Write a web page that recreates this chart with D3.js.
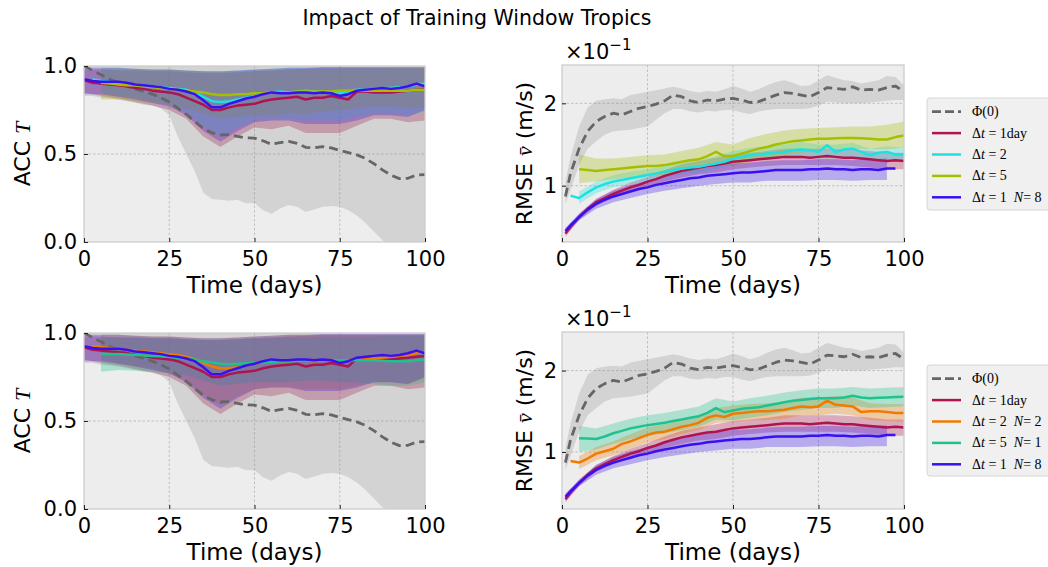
<!DOCTYPE html>
<html><head><meta charset="utf-8">
<script src="https://cdn.jsdelivr.net/npm/d3@7"></script>
<style>body{margin:0;background:#fff}svg{display:block}</style>
</head><body><script>
// ---------- DATA ----------
const accDays = [0,2.5,5,7.5,10,12.5,15,17.5,20,22.5,25,27.5,30,32.5,35,37.5,40,42.5,45,47.5,50,52.5,55,57.5,60,62.5,65,67.5,70,72.5,75,77.5,80,82.5,85,87.5,90,92.5,95,97.5,100];
const accBandDays = [0,5,10,15,20,25,30,35,40,45,50,55,60,65,70,75,80,85,90,95,100];
const rmseDays = [1,2.5,5,7.5,10,12.5,15,17.5,20,22.5,25,27.5,30,32.5,35,37.5,40,42.5,45,47.5,50,52.5,55,57.5,60,62.5,65,67.5,70,72.5,75,77.5,80,82.5,85,87.5,90,92.5,95,97.5,100];
const rmseBandDays = [1,5,10,15,20,25,30,35,40,45,50,55,60,65,70,75,80,85,90,95,100];

const xTicks = [0,25,50,75,100];
const accTicks = [0,0.5,1];
const rmseTicks = [1,2];

// ACC means
const accPhi = [1.00,0.975,0.95,0.925,0.905,0.885,0.87,0.855,0.84,0.82,0.795,0.76,0.725,0.685,0.645,0.62,0.608,0.61,0.60,0.592,0.59,0.575,0.555,0.565,0.572,0.56,0.538,0.535,0.542,0.535,0.52,0.508,0.495,0.475,0.445,0.41,0.38,0.36,0.362,0.38,0.383];
const accPhiLo = [0.83,0.83,0.82,0.815,0.81,0.80,0.79,0.78,0.775,0.76,0.72,0.60,0.50,0.40,0.28,0.245,0.24,0.235,0.24,0.22,0.22,0.18,0.16,0.19,0.21,0.20,0.17,0.185,0.20,0.205,0.20,0.18,0.15,0.11,0.06,0.01,-0.03,-0.06,-0.08,-0.10,-0.10];
const accPhiHi = [1.0,1.0,1.0,1.0,1.0,1.0,1.0,1.0,1.0,1.0,1.0,1.0,1.0,1.0,1.0,1.0,1.0,1.0,1.0,1.0,1.0,1.0,1.0,1.0,1.0,1.0,1.0,1.0,1.0,1.0,1.0,1.0,1.0,1.0,1.0,1.0,1.0,1.0,1.0,1.0,1.0];
const accRed = [0.92,0.905,0.90,0.895,0.89,0.885,0.875,0.87,0.86,0.855,0.85,0.84,0.82,0.80,0.78,0.75,0.75,0.765,0.775,0.78,0.785,0.80,0.81,0.815,0.82,0.825,0.81,0.82,0.82,0.83,0.82,0.81,0.855,0.855,0.85,0.85,0.85,0.855,0.86,0.865,0.87];
const accBlue = [0.925,0.915,0.91,0.91,0.91,0.905,0.895,0.89,0.885,0.88,0.87,0.865,0.855,0.84,0.805,0.765,0.765,0.785,0.80,0.815,0.825,0.84,0.85,0.845,0.845,0.85,0.85,0.845,0.85,0.845,0.83,0.84,0.86,0.865,0.87,0.875,0.87,0.875,0.885,0.90,0.885];
const accCyan = [null,0.925,0.915,0.91,0.905,0.90,0.895,0.89,0.885,0.88,0.875,0.87,0.865,0.85,0.825,0.80,0.795,0.80,0.81,0.82,0.83,0.845,0.85,0.855,0.85,0.855,0.86,0.855,0.855,0.85,0.845,0.855,0.865,0.865,0.87,0.875,0.875,0.88,0.885,0.895,0.90];
const accYellow = [null,null,0.905,0.90,0.895,0.89,0.89,0.885,0.88,0.875,0.87,0.865,0.86,0.855,0.85,0.84,0.835,0.835,0.84,0.84,0.845,0.845,0.85,0.85,0.85,0.855,0.855,0.855,0.855,0.855,0.86,0.86,0.86,0.86,0.86,0.86,0.86,0.86,0.86,0.865,0.865];
const accOrange = [null,0.925,0.92,0.915,0.91,0.905,0.90,0.895,0.89,0.885,0.88,0.875,0.865,0.85,0.83,0.81,0.80,0.80,0.805,0.815,0.825,0.835,0.84,0.84,0.84,0.845,0.845,0.84,0.845,0.845,0.84,0.845,0.85,0.85,0.855,0.86,0.865,0.87,0.875,0.885,0.89];
const accGreen = [null,null,0.88,0.88,0.88,0.878,0.875,0.872,0.87,0.868,0.865,0.86,0.855,0.848,0.84,0.832,0.825,0.823,0.825,0.828,0.83,0.832,0.835,0.838,0.84,0.842,0.845,0.845,0.845,0.845,0.845,0.845,0.845,0.845,0.845,0.843,0.84,0.84,0.84,0.845,0.85];
// ACC bands (on accBandDays)
const accRedLo = [0.85,0.83,0.815,0.795,0.775,0.75,0.70,0.60,0.54,0.60,0.65,0.64,0.66,0.62,0.62,0.62,0.66,0.70,0.70,0.68,0.69];
const accRedHi = [0.98,0.98,0.975,0.975,0.97,0.97,0.965,0.96,0.96,0.965,0.97,0.975,0.98,0.985,0.99,0.99,0.99,0.99,0.99,0.99,0.99];
const accBlueLo = [0.84,0.84,0.825,0.81,0.79,0.77,0.72,0.63,0.57,0.63,0.68,0.69,0.69,0.67,0.67,0.67,0.69,0.72,0.72,0.71,0.75];
const accBlueHi = [0.99,0.99,0.99,0.985,0.98,0.98,0.975,0.97,0.97,0.975,0.98,0.985,0.99,0.99,0.995,0.995,0.995,0.995,0.995,0.995,0.995];
const accCyanLo = [null,0.85,0.835,0.82,0.80,0.78,0.74,0.66,0.60,0.65,0.69,0.70,0.70,0.69,0.69,0.69,0.71,0.73,0.73,0.72,0.74];
const accCyanHi = [null,0.99,0.99,0.985,0.98,0.98,0.975,0.97,0.97,0.975,0.98,0.985,0.99,0.99,0.99,0.99,0.99,0.99,0.99,0.99,0.99];
const accYellowLo = [null,0.81,0.81,0.80,0.79,0.78,0.76,0.73,0.70,0.71,0.72,0.72,0.73,0.73,0.74,0.75,0.76,0.77,0.77,0.76,0.76];
const accYellowHi = [null,0.985,0.985,0.98,0.98,0.98,0.975,0.97,0.965,0.97,0.975,0.975,0.98,0.98,0.98,0.985,0.985,0.985,0.99,0.99,0.99];
const accOrangeLo = [null,0.85,0.83,0.81,0.80,0.77,0.73,0.65,0.59,0.64,0.68,0.69,0.69,0.68,0.68,0.68,0.70,0.72,0.72,0.71,0.74];
const accOrangeHi = [null,0.99,0.99,0.985,0.98,0.98,0.975,0.97,0.97,0.975,0.98,0.985,0.99,0.99,0.99,0.99,0.99,0.99,0.99,0.99,0.99];
const accGreenLo = [null,0.78,0.79,0.785,0.78,0.77,0.76,0.73,0.70,0.71,0.72,0.72,0.72,0.73,0.73,0.72,0.72,0.71,0.70,0.70,0.72];
const accGreenHi = [null,0.975,0.975,0.975,0.97,0.97,0.965,0.96,0.96,0.965,0.97,0.97,0.975,0.975,0.98,0.98,0.98,0.98,0.985,0.985,0.985];

// RMSE means (x 10^-1)
const rmsePhi = [0.87,1.15,1.45,1.66,1.78,1.84,1.88,1.86,1.90,1.94,1.96,1.99,2.03,2.10,2.08,2.03,2.01,2.04,2.03,2.05,2.06,2.04,2.01,2.02,2.06,2.10,2.13,2.12,2.10,2.08,2.13,2.19,2.18,2.17,2.20,2.16,2.17,2.16,2.19,2.21,2.14];
const rmsePhiLo = [0.78,0.95,1.25,1.45,1.54,1.62,1.66,1.67,1.68,1.70,1.72,1.80,1.88,1.93,1.93,1.90,1.89,1.91,1.90,1.92,1.92,1.89,1.87,1.90,1.92,1.93,1.93,1.93,1.93,1.94,1.97,2.02,2.01,2.00,2.00,2.00,2.01,2.02,2.03,2.04,2.04];
const rmsePhiHi = [1.05,1.35,1.72,1.95,2.03,2.05,2.06,2.05,2.10,2.12,2.14,2.16,2.18,2.20,2.18,2.15,2.13,2.15,2.14,2.17,2.21,2.18,2.14,2.17,2.22,2.26,2.28,2.25,2.21,2.22,2.28,2.34,2.31,2.28,2.27,2.24,2.26,2.28,2.33,2.32,2.22];
const rmseRed = [0.42,0.50,0.62,0.72,0.80,0.85,0.90,0.94,0.98,1.01,1.05,1.08,1.12,1.15,1.18,1.20,1.22,1.24,1.25,1.27,1.29,1.30,1.31,1.32,1.33,1.34,1.35,1.35,1.35,1.34,1.35,1.36,1.35,1.34,1.34,1.33,1.32,1.31,1.30,1.31,1.30];
const rmseBlue = [0.45,0.52,0.62,0.71,0.78,0.83,0.87,0.90,0.93,0.96,0.98,1.01,1.03,1.05,1.07,1.09,1.10,1.12,1.13,1.14,1.15,1.16,1.16,1.17,1.18,1.19,1.19,1.19,1.19,1.20,1.20,1.21,1.20,1.20,1.19,1.20,1.20,1.19,1.21,1.21,null];
const rmseCyan = [null,0.88,0.85,0.92,0.98,1.02,1.05,1.07,1.09,1.11,1.13,1.15,1.17,1.19,1.21,1.22,1.23,1.25,1.27,1.29,1.33,1.35,1.37,1.38,1.39,1.40,1.41,1.43,1.44,1.43,1.41,1.49,1.41,1.44,1.45,1.41,1.37,1.40,1.41,1.38,1.38];
const rmseYellow = [null,null,1.20,1.19,1.18,1.19,1.20,1.21,1.22,1.23,1.24,1.24,1.25,1.27,1.29,1.31,1.32,1.36,1.41,1.36,1.36,1.39,1.42,1.45,1.47,1.50,1.52,1.54,1.55,1.56,1.57,1.57,1.575,1.58,1.58,1.575,1.57,1.56,1.56,1.59,1.61];
const rmseOrange = [null,0.89,0.87,0.92,0.98,1.01,1.04,1.10,1.13,1.17,1.21,1.24,1.25,1.28,1.31,1.33,1.36,1.42,1.45,1.43,1.47,1.48,1.49,1.50,1.50,1.51,1.52,1.54,1.56,1.55,1.56,1.63,1.58,1.57,1.56,1.49,1.50,1.50,1.49,1.48,1.48];
const rmseGreen = [null,null,1.17,1.165,1.16,1.19,1.23,1.26,1.29,1.31,1.33,1.345,1.36,1.38,1.40,1.42,1.44,1.48,1.54,1.49,1.51,1.53,1.54,1.55,1.57,1.59,1.61,1.63,1.64,1.65,1.66,1.66,1.66,1.67,1.69,1.67,1.66,1.665,1.67,1.675,1.68];
// RMSE bands (on rmseBandDays)
const rmseRedLo = [0.38,0.58,0.76,0.85,0.92,0.98,1.05,1.10,1.14,1.16,1.20,1.22,1.24,1.25,1.25,1.25,1.25,1.24,1.22,1.20,1.20];
const rmseRedHi = [0.46,0.66,0.84,0.95,1.04,1.11,1.19,1.26,1.30,1.34,1.38,1.40,1.42,1.45,1.45,1.45,1.45,1.44,1.42,1.40,1.40];
const rmseBlueLo = [0.41,0.58,0.72,0.80,0.85,0.90,0.94,0.97,1.00,1.02,1.04,1.04,1.06,1.06,1.06,1.07,1.07,1.06,1.07,1.07,null];
const rmseBlueHi = [0.49,0.66,0.84,0.94,1.01,1.06,1.12,1.17,1.21,1.24,1.27,1.28,1.30,1.31,1.31,1.32,1.32,1.31,1.32,1.33,null];
const rmseCyanLo = [null,0.78,0.91,0.98,1.02,1.06,1.10,1.14,1.16,1.20,1.26,1.30,1.32,1.34,1.35,1.33,1.33,1.35,1.30,1.32,1.31];
const rmseCyanHi = [null,0.93,1.05,1.13,1.17,1.20,1.24,1.29,1.31,1.36,1.42,1.46,1.48,1.50,1.53,1.50,1.50,1.52,1.45,1.48,1.46];
const rmseYellowLo = [null,1.03,1.05,1.08,1.10,1.12,1.13,1.16,1.19,1.26,1.24,1.29,1.33,1.37,1.40,1.43,1.45,1.45,1.44,1.44,1.46];
const rmseYellowHi = [null,1.38,1.33,1.33,1.35,1.37,1.38,1.42,1.46,1.53,1.50,1.58,1.63,1.67,1.69,1.70,1.71,1.72,1.72,1.74,1.78];
const rmseOrangeLo = [null,0.79,0.90,0.96,1.04,1.12,1.16,1.22,1.27,1.36,1.37,1.39,1.39,1.41,1.45,1.45,1.47,1.45,1.39,1.38,1.37];
const rmseOrangeHi = [null,0.95,1.06,1.13,1.22,1.30,1.34,1.40,1.45,1.54,1.57,1.59,1.60,1.62,1.67,1.67,1.69,1.67,1.60,1.59,1.59];
const rmseGreenLo = [null,1.00,1.03,1.10,1.16,1.20,1.23,1.27,1.31,1.40,1.39,1.42,1.45,1.49,1.52,1.54,1.54,1.57,1.54,1.55,1.56];
const rmseGreenHi = [null,1.32,1.29,1.35,1.41,1.45,1.48,1.52,1.56,1.66,1.62,1.66,1.69,1.73,1.76,1.78,1.78,1.80,1.78,1.79,1.80];

// legend labels: [text, italic]
const labelsTop = [
  [["Φ(0)",0]],
  [["Δ",0],["t",1],[" = 1day",0]],
  [["Δ",0],["t",1],[" = 2",0]],
  [["Δ",0],["t",1],[" = 5",0]],
  [["Δ",0],["t",1],[" = 1  ",0],["N",1],["= 8",0]]
];
const labelsBottom = [
  [["Φ(0)",0]],
  [["Δ",0],["t",1],[" = 1day",0]],
  [["Δ",0],["t",1],[" = 2  ",0],["N",1],["= 2",0]],
  [["Δ",0],["t",1],[" = 5  ",0],["N",1],["= 1",0]],
  [["Δ",0],["t",1],[" = 1  ",0],["N",1],["= 8",0]]
];

// ---------- STYLE ----------
const C = {phi:"#666666", phiBand:"#808080", red:"#ad1450", cyan:"#1ee0e0", yellow:"#a6be00", blue:"#3a0ff0", orange:"#ef7b00", green:"#1ec28e"};
const SANS = "'DejaVu Sans', sans-serif";
const SERIF = "'Liberation Serif', 'DejaVu Serif', serif";

const svg = d3.select("body").append("svg").attr("width",1048).attr("height",567).style("font-family",SANS);
svg.append("text").attr("x",477).attr("y",25).attr("text-anchor","middle").attr("font-size",20.5).text("Impact of Training Window Tropics");

let clipN = 0;
function panel(cfg){
  const {x0,x1,y0,y1,yDomain,yTicks,yFmt,series,ylab,ylabX,ypad,sci,bandOp} = cfg;
  const x = d3.scaleLinear().domain([0,100]).range([x0,x1]);
  const y = d3.scaleLinear().domain(yDomain).range([y1,y0]);
  const g = svg.append("g");
  const cid = "clip"+(clipN++);
  g.append("clipPath").attr("id",cid).append("rect").attr("x",x0).attr("y",y0).attr("width",x1-x0).attr("height",y1-y0);
  g.append("rect").attr("x",x0).attr("y",y0).attr("width",x1-x0).attr("height",y1-y0).attr("fill","#ededed");
  // grid
  g.selectAll(".gx").data(xTicks.slice(1,-1)).join("line").attr("x1",d=>x(d)).attr("x2",d=>x(d)).attr("y1",y0).attr("y2",y1)
    .attr("stroke","#b4b4b4").attr("stroke-width",0.8).attr("stroke-dasharray","2.5,2");
  g.selectAll(".gy").data(yTicks.filter(t=>y(t)>y0+1&&y(t)<y1-1)).join("line").attr("y1",d=>y(d)).attr("y2",d=>y(d)).attr("x1",x0).attr("x2",x1)
    .attr("stroke","#b4b4b4").attr("stroke-width",0.8).attr("stroke-dasharray","2.5,2");
  const pg = g.append("g").attr("clip-path",`url(#${cid})`);
  // bands (colored first, reference gray band on top)
  const bandOrder = series.filter(s=>!s.dashed).concat(series.filter(s=>s.dashed));
  bandOrder.forEach(s=>{
    const pts = s.bx.map((d,i)=>[d,s.lo[i],s.hi[i]]);
    const area = d3.area().defined(p=>p[1]!=null&&p[2]!=null).x(p=>x(p[0])).y0(p=>y(p[1])).y1(p=>y(p[2]));
    pg.append("path").attr("d",area(pts)).attr("fill",s.band||s.color).attr("fill-opacity",s.bandOp||bandOp);
  });
  // lines
  series.forEach(s=>{
    const pts = s.mx.map((d,i)=>[d,s.m[i]]);
    const line = d3.line().defined(p=>p[1]!=null).x(p=>x(p[0])).y(p=>y(p[1]));
    pg.append("path").attr("d",line(pts)).attr("fill","none").attr("stroke",s.color)
      .attr("stroke-width",s.dashed?2.8:2.5).attr("stroke-linejoin","round")
      .attr("stroke-dasharray",s.dashed?"9,5":null);
  });
  // frame
  g.append("rect").attr("x",x0).attr("y",y0).attr("width",x1-x0).attr("height",y1-y0).attr("fill","none").attr("stroke","#cdcdcd").attr("stroke-width",1.3);
  // axes
  const ax = g.append("g").attr("transform",`translate(0,${y1})`)
    .call(d3.axisBottom(x).tickValues(xTicks).tickFormat(d3.format("d")).tickSizeInner(-4).tickSizeOuter(0).tickPadding(9));
  const ay = g.append("g").attr("transform",`translate(${x0},0)`)
    .call(d3.axisLeft(y).tickValues(yTicks).tickFormat(yFmt).tickSizeInner(-4).tickSizeOuter(0).tickPadding(ypad));
  [ax,ay].forEach(a=>{a.select(".domain").remove(); a.attr("font-family",null).attr("font-size",null);
    a.selectAll("text").style("font-family",SANS).style("font-size","21px").attr("fill","#000"); a.selectAll("line").attr("stroke","#222");});
  // x label
  g.append("text").attr("x",(x0+x1)/2).attr("y",y1+51).attr("text-anchor","middle").style("font-size","23px").text("Time (days)");
  // y label
  const yl = g.append("text").attr("transform",`translate(${ylabX},${(y0+y1)/2}) rotate(-90)`).attr("text-anchor","middle").style("font-size","22px");
  ylab(yl);
  if(sci){
    const t = g.append("text").attr("x",x0+3).attr("y",y0-6).style("font-size","21px");
    t.append("tspan").text("×10");
    t.append("tspan").attr("dy",-9).style("font-size","15px").text("−1");
  }
  return {x,y};
}

function legend(x0,y0,h,labels,colors,dashes){
  const g = svg.append("g").attr("transform",`translate(${x0},${y0})`);
  g.append("rect").attr("width",130).attr("height",h).attr("rx",3).attr("fill","#f0f0f0").attr("stroke","#d6d6d6").attr("stroke-width",1);
  labels.forEach((lab,i)=>{
    const yy = 13.7 + i*21.4;
    g.append("line").attr("x1",5).attr("x2",34).attr("y1",yy).attr("y2",yy).attr("stroke",colors[i])
      .attr("stroke-width",dashes[i]?2.8:2.5).attr("stroke-dasharray",dashes[i]?"9,4":null);
    const t = g.append("text").attr("x",45).attr("y",yy+4.5).style("font-family",SERIF).style("font-size","14px").style("white-space","pre");
    lab.forEach(([txt,it])=>{
      const ts = t.append("tspan").text(txt);
      if(it) ts.style("font-style","italic");
    });
  });
}

const phiS = (m,lo,hi,mx,bx)=>({m,lo,hi,mx,bx,color:C.phi,band:C.phiBand,bandOp:0.24,dashed:true});
const S = (m,lo,hi,mx,bx,color)=>({m,lo,hi,mx,bx,color});

const accLab = t=>{t.append("tspan").text("ACC "); t.append("tspan").style("font-family",SERIF).style("font-style","italic").text("T");};
const rmseLab = t=>{t.append("tspan").text("RMSE "); t.append("tspan").style("font-family",SERIF).style("font-style","italic").text("v̄"); t.append("tspan").text(" (m/s)");};

// Top-left
panel({x0:84,x1:425,y0:66,y1:242,yDomain:[0,1],yTicks:accTicks,yFmt:d3.format(".1f"),ylab:accLab,ylabX:30,ypad:7,bandOp:0.33,
  series:[phiS(accPhi,accPhiLo,accPhiHi,accDays,accDays),
    S(accRed,accRedLo,accRedHi,accDays,accBandDays,C.red),
    S(accCyan,accCyanLo,accCyanHi,accDays,accBandDays,C.cyan),
    S(accYellow,accYellowLo,accYellowHi,accDays,accBandDays,C.yellow),
    S(accBlue,accBlueLo,accBlueHi,accDays,accBandDays,C.blue)]});
// Top-right
panel({x0:562,x1:904,y0:65,y1:242,yDomain:[0.317,2.465],yTicks:rmseTicks,yFmt:d3.format("d"),ylab:rmseLab,ylabX:532,ypad:5,sci:true,bandOp:0.3,
  series:[phiS(rmsePhi,rmsePhiLo,rmsePhiHi,rmseDays,rmseDays),
    S(rmseRed,rmseRedLo,rmseRedHi,rmseDays,rmseBandDays,C.red),
    S(rmseCyan,rmseCyanLo,rmseCyanHi,rmseDays,rmseBandDays,C.cyan),
    S(rmseYellow,rmseYellowLo,rmseYellowHi,rmseDays,rmseBandDays,C.yellow),
    S(rmseBlue,rmseBlueLo,rmseBlueHi,rmseDays,rmseBandDays,C.blue)]});
// Bottom-left
panel({x0:84,x1:425,y0:333,y1:509,yDomain:[0,1],yTicks:accTicks,yFmt:d3.format(".1f"),ylab:accLab,ylabX:30,ypad:7,bandOp:0.33,
  series:[phiS(accPhi,accPhiLo,accPhiHi,accDays,accDays),
    S(accRed,accRedLo,accRedHi,accDays,accBandDays,C.red),
    S(accOrange,accOrangeLo,accOrangeHi,accDays,accBandDays,C.orange),
    S(accGreen,accGreenLo,accGreenHi,accDays,accBandDays,C.green),
    S(accBlue,accBlueLo,accBlueHi,accDays,accBandDays,C.blue)]});
// Bottom-right
panel({x0:562,x1:904,y0:332,y1:509,yDomain:[0.30,2.474],yTicks:rmseTicks,yFmt:d3.format("d"),ylab:rmseLab,ylabX:532,ypad:5,sci:true,bandOp:0.3,
  series:[phiS(rmsePhi,rmsePhiLo,rmsePhiHi,rmseDays,rmseDays),
    S(rmseRed,rmseRedLo,rmseRedHi,rmseDays,rmseBandDays,C.red),
    S(rmseOrange,rmseOrangeLo,rmseOrangeHi,rmseDays,rmseBandDays,C.orange),
    S(rmseGreen,rmseGreenLo,rmseGreenHi,rmseDays,rmseBandDays,C.green),
    S(rmseBlue,rmseBlueLo,rmseBlueHi,rmseDays,rmseBandDays,C.blue)]});

legend(927,98,112,labelsTop,[C.phi,C.red,C.cyan,C.yellow,C.blue],[true,false,false,false,false]);
legend(927,365,111,labelsBottom,[C.phi,C.red,C.orange,C.green,C.blue],[true,false,false,false,false]);
</script></body></html>
